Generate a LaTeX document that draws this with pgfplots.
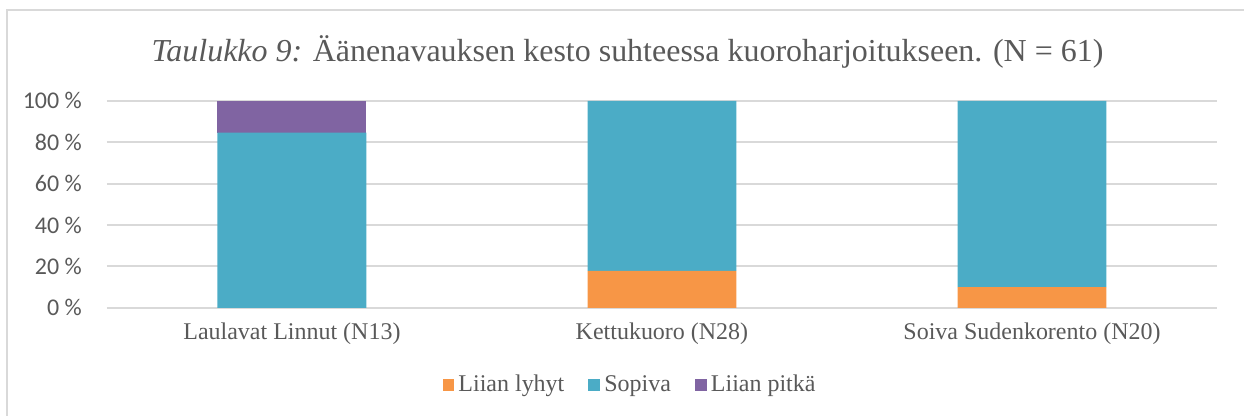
\documentclass[border=0pt]{standalone}
\usepackage{fontspec}
\setmainfont{Liberation Serif}
\newfontfamily\tickfont{Carlito}
\usepackage{pgfplots}
\pgfplotsset{compat=1.18}
\definecolor{lyhyt}{HTML}{F79646}
\definecolor{sopiva}{HTML}{4BACC6}
\definecolor{pitka}{HTML}{8064A2}
\definecolor{txt}{HTML}{595959}
\definecolor{gridc}{HTML}{D9D9D9}
\begin{document}
\begin{tikzpicture}
\begin{axis}[
  at={(0,0)}, anchor=south west,
  scale only axis,
  width=555.5pt, height=103.5pt,
  ybar stacked, bar width=74.5pt,
  xmin=-0.5, xmax=2.5, ymin=0, ymax=100,
  xtick=data,
  xticklabels={Laulavat Linnut (N13), Kettukuoro (N28), Soiva Sudenkorento (N20)},
  ytick={0,20,40,60,80,100},
  yticklabels={0 \%, 20 \%, 40 \%, 60 \%, 80 \%, 100 \%},
  axis line style={draw=none},
  ymajorgrids,
  grid style={gridc, line width=0.9pt},
  major tick length=0pt,
  x tick label style={font=\fontsize{12}{14}\selectfont, text=txt, yshift=-4pt},
  y tick label style={font=\tickfont\fontsize{12}{14}\selectfont, text=txt, xshift=-9pt},
  legend style={draw=none, at={(0.5,-0.372)}, anchor=center, xshift=-15.5pt,
    font=\fontsize{12}{14}\selectfont, text=txt,
    /tikz/every even column/.append style={column sep=10pt}},
  legend columns=3,
  legend image code/.code={\fill[#1] (0pt,-3pt) rectangle (6pt,3pt);},
]
\addplot[fill=lyhyt, draw=none] coordinates {(0,0) (1,17.86) (2,10)};
\addplot[fill=sopiva, draw=none] coordinates {(0,84.62) (1,82.14) (2,90)};
\addplot[fill=pitka, draw=none] coordinates {(0,15.38) (1,0) (2,0)};
\legend{Liian lyhyt, Sopiva, Liian pitkä}
\end{axis}
\draw[gridc, line width=1pt] (-50pt,-54pt) -- (-50pt,149pt) -- (569pt,149pt);
\node[text=txt, font=\fontsize{16}{19}\selectfont] at (260.5pt,128pt)
  {\textit{Taulukko 9:} Äänenavauksen kesto suhteessa kuoroharjoitukseen. (N = 61)};
\useasboundingbox (-53.5pt,-54pt) rectangle (569pt,154pt);
\end{tikzpicture}
\end{document}
